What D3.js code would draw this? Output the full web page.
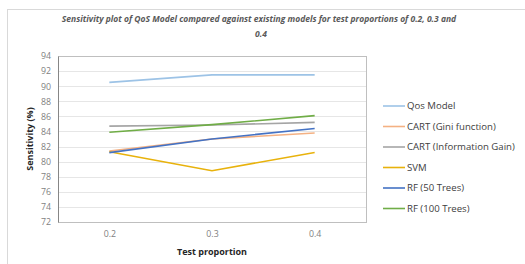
<!DOCTYPE html>
<html>
<head>
<meta charset="utf-8">
<script src="https://cdn.jsdelivr.net/npm/d3@7"></script>
<style>
  body { margin: 0; background: #fff; }
  text { font-family: "Open Sans", Lato, sans-serif; }
</style>
</head>
<body>
<div id="chart"></div>
<script>
// data
const proportions = ["0.2", "0.3", "0.4"];
const seriesNames = ["Qos Model", "CART (Gini function)", "CART (Information Gain)", "SVM", "RF (50 Trees)", "RF (100 Trees)"];
const qosModel = [90.5, 91.5, 91.5];
const cartGini = [81.4, 83.0, 83.8];
const cartInfoGain = [84.7, 84.85, 85.2];
const svmVals = [81.3, 78.8, 81.2];
const rf50 = [81.2, 83.0, 84.4];
const rf100 = [83.9, 84.9, 86.1];
const yTicks = [72, 74, 76, 78, 80, 82, 84, 86, 88, 90, 92, 94];
const colors = ["#9dc3e6", "#f4b183", "#a5a5a5", "#e8b20c", "#4472c4", "#70ad47"];

const allSeries = [qosModel, cartGini, cartInfoGain, svmVals, rf50, rf100];

const W = 525, H = 264;
const margin = {top: 56, right: 159, bottom: 42, left: 58};
const width = W - margin.left - margin.right,
      height = H - margin.top - margin.bottom;

const svg = d3.select("#chart").append("svg")
    .attr("width", W)
    .attr("height", H);

// outer chart border
svg.append("rect")
    .attr("x", 7.5).attr("y", 9.5)
    .attr("width", 540).attr("height", 280)
    .attr("fill", "none")
    .attr("stroke", "#d9d9d9");

// title
const title = svg.append("text")
    .attr("text-anchor", "middle")
    .attr("font-size", 8.5)
    .attr("font-weight", "bold")
    .attr("font-style", "italic")
    .attr("fill", "#595959");
title.append("tspan").attr("x", 259).attr("y", 22)
    .text("Sensitivity plot of QoS Model compared against existing models for test proportions of 0.2, 0.3 and");
title.append("tspan").attr("x", 261).attr("y", 37).text("0.4");

const g = svg.append("g")
    .attr("transform", `translate(${margin.left}, ${margin.top})`);

const x = d3.scalePoint()
    .domain(proportions)
    .range([0, width])
    .padding(0.5);

const y = d3.scaleLinear()
    .domain([72, 94])
    .range([height, 0]);

// gridlines
g.append("g")
  .selectAll("line")
  .data(yTicks)
  .enter()
  .append("line")
    .attr("x1", 0).attr("x2", width)
    .attr("y1", d => Math.round(y(d)) + 0.5)
    .attr("y2", d => Math.round(y(d)) + 0.5)
    .attr("stroke", "#e6e6e6");

// plot frame
g.append("rect")
    .attr("x", 0.5).attr("y", 0.5)
    .attr("width", width).attr("height", height)
    .attr("fill", "none")
    .attr("stroke", "#bfbfbf");

// y axis
const yAxis = g.append("g")
    .call(d3.axisLeft(y).tickValues(yTicks).tickSize(0).tickPadding(7));
yAxis.select(".domain").attr("stroke", "#868686");
yAxis.selectAll("text")
    .attr("font-size", 8.8)
    .attr("fill", "#7f7f7f")
    .style("font-family", "'Open Sans', sans-serif");

// x axis labels
const xAxis = g.append("g")
    .attr("transform", `translate(0, ${height})`)
    .call(d3.axisBottom(x).tickSize(0).tickPadding(9));
xAxis.select(".domain").remove();
xAxis.selectAll("text")
    .attr("font-size", 8.8)
    .attr("fill", "#7f7f7f")
    .style("font-family", "'Open Sans', sans-serif");

// axis titles
svg.append("text")
    .attr("text-anchor", "middle")
    .attr("x", margin.left + width / 2)
    .attr("y", 255)
    .attr("font-size", 9)
    .attr("font-weight", "bold")
    .attr("fill", "#262626")
    .text("Test proportion");

svg.append("text")
    .attr("text-anchor", "middle")
    .attr("transform", `translate(33, ${margin.top + height / 2}) rotate(-90)`)
    .attr("font-size", 9)
    .attr("font-weight", "bold")
    .attr("fill", "#262626")
    .text("Sensitivity (%)");

// lines
const line = d3.line()
    .x((d, i) => x(proportions[i]))
    .y(d => y(d));

g.selectAll(".series")
  .data(allSeries)
  .enter()
  .append("path")
    .attr("class", "series")
    .attr("d", line)
    .attr("fill", "none")
    .attr("stroke", (d, i) => colors[i])
    .attr("stroke-width", 1.6);

// legend
const legend = svg.append("g")
    .attr("transform", "translate(383, 106)");
const items = legend.selectAll("g")
  .data(seriesNames)
  .enter()
  .append("g")
    .attr("transform", (d, i) => `translate(0, ${i * 20.5})`);
items.append("line")
    .attr("x1", 0).attr("x2", 22)
    .attr("stroke", (d, i) => colors[i])
    .attr("stroke-width", 1.6);
items.append("text")
    .attr("x", 24)
    .attr("dy", "0.35em")
    .attr("font-size", 9.6)
    .attr("fill", "#404040")
    .text(d => d);
</script>
</body>
</html>
